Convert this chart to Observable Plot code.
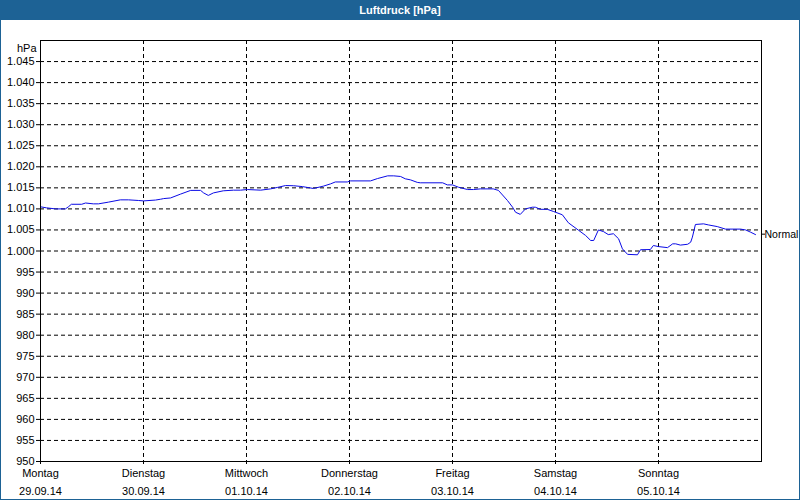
<!DOCTYPE html>
<html>
<head>
<meta charset="utf-8">
<script src="https://cdn.jsdelivr.net/npm/d3@7"></script>
<script src="https://cdn.jsdelivr.net/npm/@observablehq/plot@0.6"></script>
<style>
  html, body { margin: 0; padding: 0; background: #fff; }
  #wrap { position: relative; width: 800px; height: 500px; background: #fff; overflow: hidden; }
  #title { height: 20px; background: #1d6295; color: #fff; text-align: center;
           font: bold 11px "Liberation Sans", Arial, sans-serif; line-height: 20px; }
  #chart svg { display: block; }
  #border { position: absolute; left: 0; top: 0; right: 0; bottom: 0; border: 1px solid #1d6295; pointer-events: none; }
</style>
</head>
<body>
<div id="wrap">
  <div id="title">Luftdruck [hPa]</div>
  <div id="chart"></div>
  <div id="border"></div>
</div>
<script>
// hours since Monday 29.09.14 00:00
const hours = [0, 1.4, 3.5, 5.8, 6.5, 7.2, 9.6, 10.5, 12.3, 13.5, 15.8, 18.6, 20.5, 22.8, 24.0, 26.8, 28.0, 28.7,
  30.3, 32.6, 35.0, 37.3, 38.0, 39.1, 40.3, 42.6, 45.0, 46.6, 48.2, 51.3, 53.6, 55.2, 57.1, 59.0, 61.0, 63.6,
  65.9, 67.6, 68.7, 71.5, 72.2, 76.9, 78.5, 80.9, 82.3, 83.9, 85.0, 86.2, 87.8, 88.5, 93.7, 94.8, 96.0, 97.4,
  99.5, 100.9, 102.5, 105.5, 106.7, 108.8, 110.0, 110.7, 111.8, 113.0, 114.6, 115.3, 116.5, 118.1, 119.5, 121.6,
  123.0, 125.4, 127.0, 128.2, 128.9, 130.0, 131.2, 132.3, 133.5, 134.7, 135.6, 136.8, 139.1, 139.8, 142.1, 142.8,
  144.0, 146.1, 147.3, 148.0, 149.1, 150.8, 151.5, 151.9, 152.6, 154.5, 155.6, 157.7, 159.6, 163.1, 164.3, 165.4, 166.6];
const pressure = [1010.5, 1010.25, 1010.0, 1010.0, 1010.5, 1011.1, 1011.1, 1011.4, 1011.2, 1011.2, 1011.6, 1012.15, 1012.15, 1012.0, 1011.9, 1012.1, 1012.3, 1012.45,
  1012.6, 1013.5, 1014.4, 1014.4, 1013.8, 1013.2, 1013.8, 1014.3, 1014.45, 1014.45, 1014.6, 1014.45, 1014.75, 1015.1, 1015.55, 1015.5, 1015.3, 1014.85,
  1015.4, 1015.95, 1016.4, 1016.4, 1016.65, 1016.65, 1017.2, 1017.85, 1017.85, 1017.7, 1017.15, 1016.9, 1016.3, 1016.2, 1016.2, 1015.7, 1015.7, 1015.15,
  1014.6, 1014.6, 1014.75, 1014.75, 1014.4, 1012.0, 1010.4, 1009.2, 1008.7, 1010.0, 1010.4, 1010.4, 1009.9, 1009.9, 1009.4, 1008.6,
  1006.7, 1004.9, 1003.7, 1002.5, 1002.5, 1005.0, 1004.6, 1003.9, 1004.1, 1002.9, 1000.5, 999.2, 999.1, 1000.3, 1000.35, 1001.3,
  1001.05, 1000.8, 1001.7, 1001.7, 1001.4, 1001.6, 1002.1, 1003.3, 1006.3, 1006.45, 1006.2, 1005.8, 1005.2, 1005.2, 1005.0, 1004.5, 1003.9];
const dayNames = ["Montag", "Dienstag", "Mittwoch", "Donnerstag", "Freitag", "Samstag", "Sonntag"];
const dayDates = ["29.09.14", "30.09.14", "01.10.14", "02.10.14", "03.10.14", "04.10.14", "05.10.14"];
const yTicks = [950, 955, 960, 965, 970, 975, 980, 985, 990, 995, 1000, 1005, 1010, 1015, 1020, 1025, 1030, 1035, 1040, 1045];
const normalValue = 1004;

const t0 = Date.UTC(2014, 8, 29);
const H = 3600e3, D = 24 * H;
const data = hours.map((h, i) => ({ t: new Date(t0 + h * H), p: pressure[i] }));
const dayTicks = dayNames.map((_, i) => new Date(t0 + i * D));
const xDomain = [new Date(t0), new Date(t0 + 7 * D)];
const fmtY = v => v >= 1000 ? "1." + String(v - 1000).padStart(3, "0") : String(v);
const fmtX = d => { const i = Math.round((d - t0) / D); return dayNames[i] + "\n" + dayDates[i]; };

const chart = Plot.plot({
  width: 800,
  height: 480,
  marginTop: 20,
  marginBottom: 39,
  marginLeft: 40,
  marginRight: 39,
  style: { fontFamily: "'Liberation Sans', Arial, sans-serif", fontSize: "11px", color: "#000", background: "#fff" },
  x: { type: "utc", domain: xDomain },
  y: { domain: [950, 1050] },
  marks: [
    Plot.gridY(yTicks.slice(1), { stroke: "#000", strokeOpacity: 1, strokeDasharray: "4,3" }),
    Plot.gridX(dayTicks.slice(1), { stroke: "#000", strokeOpacity: 1, strokeDasharray: "4,3" }),
    Plot.axisY(yTicks, { tickFormat: fmtY, tickSize: 4, tickPadding: 2, label: null, fill: "#000" }),
    Plot.axisY([normalValue], { anchor: "right", tickFormat: () => "Normal", tickSize: 3, tickPadding: 0, label: null, fontSize: 10.5 }),
    Plot.axisX(dayTicks, { tickFormat: fmtX, tickSize: 3, tickPadding: 0, lineHeight: 1.6, label: null }),
    Plot.text(["hPa"], { frameAnchor: "top-left", dx: -4, dy: 4, textAnchor: "end", fill: "#000" }),
    Plot.line(data, { x: "t", y: "p", stroke: "#0a0ae6", strokeWidth: 1 }),
    Plot.frame({ stroke: "#000" })
  ]
});
document.getElementById("chart").appendChild(chart);
</script>
</body>
</html>
